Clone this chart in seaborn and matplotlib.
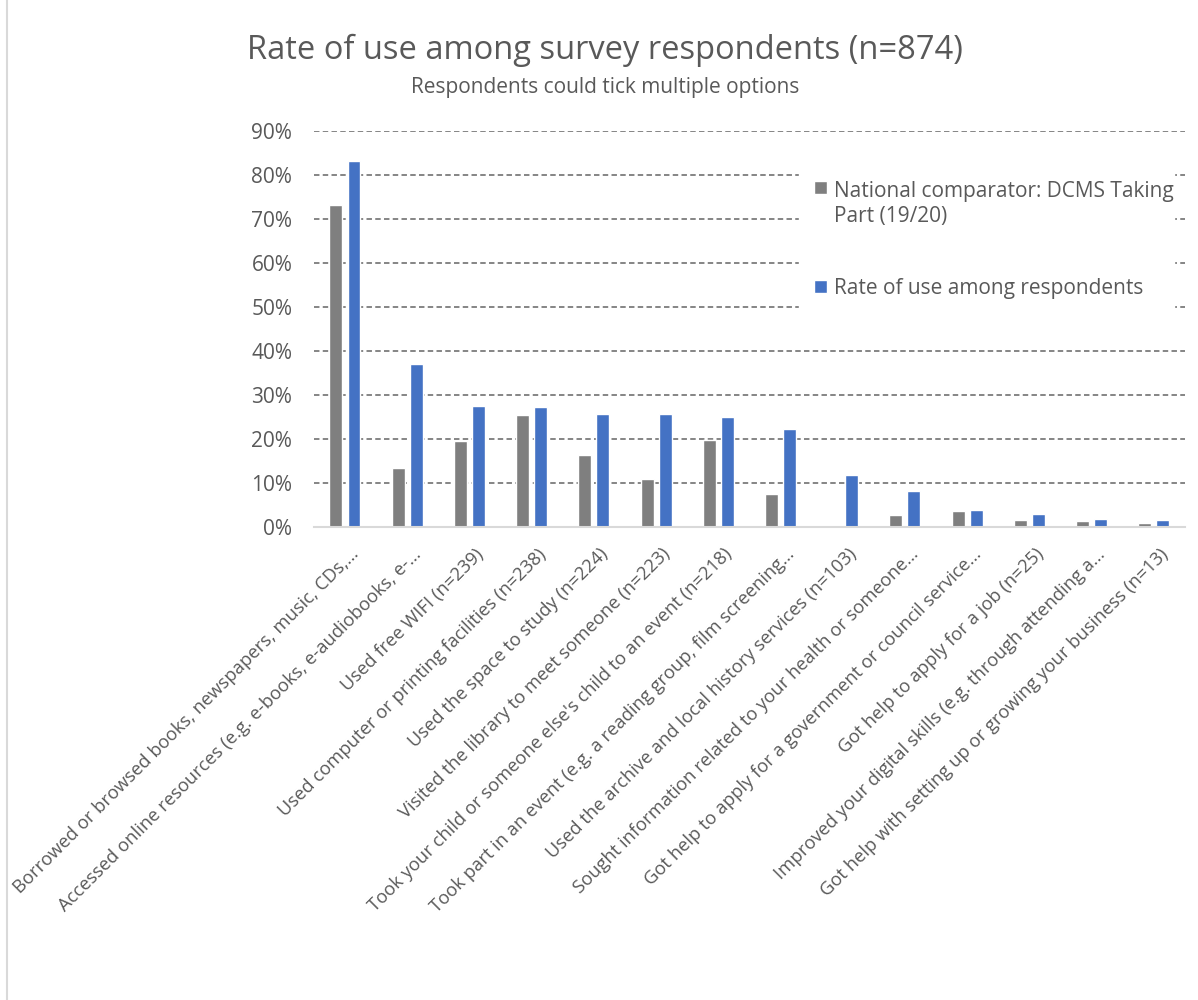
import matplotlib
matplotlib.use("Agg")
import matplotlib.pyplot as plt
import matplotlib.transforms as mtransforms
import seaborn as sns
import pandas as pd
from matplotlib.ticker import PercentFormatter
from matplotlib.patches import Rectangle

categories = [
    "Borrowed or browsed books, newspapers, music, CDs,…",
    "Accessed online resources (e.g. e-books, e-audiobooks, e-…",
    "Used free WIFI (n=239)",
    "Used computer or printing facilities (n=238)",
    "Used the space to study (n=224)",
    "Visited the library to meet someone (n=223)",
    "Took your child or someone else's child to an event (n=218)",
    "Took part in an event (e.g. a reading group, film screening…",
    "Used the archive and local history services (n=103)",
    "Sought information related to your health or someone…",
    "Got help to apply for a government or council service…",
    "Got help to apply for a job (n=25)",
    "Improved your digital skills (e.g. through attending a…",
    "Got help with setting up or growing your business (n=13)",
]
national = [0.732, 0.135, 0.195, 0.255, 0.163, 0.109, 0.198, 0.074, 0.0, 0.028, 0.037, 0.015, 0.014, 0.009]
respondents = [0.832, 0.370, 0.275, 0.273, 0.257, 0.256, 0.251, 0.222, 0.118, 0.082, 0.038, 0.029, 0.019, 0.015]
series_names = ["National comparator: DCMS Taking\nPart (19/20)", "Rate of use among respondents"]
yticks = [0, 0.1, 0.2, 0.3, 0.4, 0.5, 0.6, 0.7, 0.8, 0.9]

df = pd.DataFrame({
    "category": categories * 2,
    "value": national + respondents,
    "series": [series_names[0]] * len(categories) + [series_names[1]] * len(categories),
})

sns.set_theme(style="white")
plt.rcParams["font.family"] = ["Open Sans", "DejaVu Sans"]
text_color = "#595959"

fig = plt.figure(figsize=(11.98, 10), dpi=100)
fig.patches.append(Rectangle((0.006, -0.01), 1.2, 1.2, transform=fig.transFigure,
                             fill=False, edgecolor="#d9d9d9", linewidth=1.5))
ax = fig.add_axes([0.262, 0.473, 0.727, 0.396])

sns.barplot(data=df, x="category", y="value", hue="series", order=categories,
            palette=["#7f7f7f", "#4472c4"], width=0.58, gap=0.28, ax=ax,
            saturation=1, legend=True)

ax.set_ylim(0, 0.9)
ax.set_xlim(-0.5, len(categories) - 0.5)
ax.set_yticks(yticks)
ax.yaxis.set_major_formatter(PercentFormatter(1.0, decimals=0))
ax.set_xlabel("")
ax.set_ylabel("")
ax.grid(axis="y", linestyle=(0, (2.8, 1.7)), color="#858585", linewidth=1.4)
ax.set_axisbelow(True)
for s in ["top", "right", "left"]:
    ax.spines[s].set_visible(False)
ax.spines["bottom"].set_color("#d9d9d9")
ax.spines["bottom"].set_linewidth(1.5)
ax.tick_params(axis="both", length=0, colors=text_color)
ax.tick_params(axis="y", pad=15.5, labelsize=15)
ax.set_xticks(range(len(categories)))
ax.set_xticklabels(categories, rotation=45, ha="right", rotation_mode="anchor",
                   fontsize=13.2, color=text_color)
ax.tick_params(axis="x", pad=13)
shift = mtransforms.ScaledTranslation(5 / 100, 0, fig.dpi_scale_trans)
for lbl in ax.get_xticklabels():
    lbl.set_transform(lbl.get_transform() + shift)

legfs = 15
leg = ax.legend(loc="upper left", bbox_to_anchor=(0.545, 0.0, 0.455, 0.937),
                mode="expand", frameon=True, fancybox=False,
                framealpha=1, edgecolor="white", facecolor="white",
                fontsize=legfs, labelcolor=text_color, handlelength=0.62,
                handleheight=0.62, handletextpad=0.33, labelspacing=2.45,
                borderpad=0.72)
# align the marker of the two-line entry with its first line
h0 = leg.legend_handles[0]
h0.set_y(h0.get_y() + legfs * 0.82)

fig.text(0.505, 0.950, "Rate of use among survey respondents (n=874)",
         ha="center", va="center", fontsize=23.5, color=text_color)
fig.text(0.505, 0.913, "Respondents could tick multiple options",
         ha="center", va="center", fontsize=15, color=text_color)

fig.savefig("out.png", dpi=100, facecolor="white")
